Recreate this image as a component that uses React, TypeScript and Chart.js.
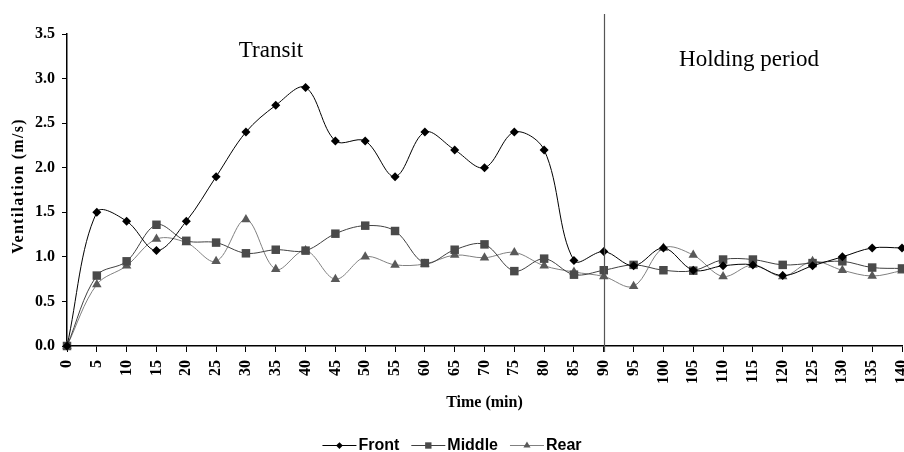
import React, { useEffect, useRef } from "react";
import { Chart, registerables } from "chart.js";

Chart.register(...registerables);

const timeLabels = ["0","5","10","15","20","25","30","35","40","45","50","55","60","65","70","75","80","85","90","95","100","105","110","115","120","125","130","135","140"];
const frontValues = [0,1.5,1.4,1.07,1.4,1.9,2.4,2.7,2.9,2.3,2.3,1.9,2.4,2.2,2.0,2.4,2.2,0.96,1.06,0.9,1.1,0.85,0.9,0.91,0.79,0.9,1.0,1.1,1.1];
const middleValues = [0,0.79,0.95,1.36,1.18,1.16,1.04,1.08,1.07,1.26,1.35,1.29,0.93,1.08,1.14,0.84,0.98,0.8,0.85,0.91,0.85,0.845,0.97,0.97,0.91,0.93,0.95,0.88,0.87];
const rearValues = [0,0.69,0.9,1.2,1.16,0.95,1.42,0.86,1.07,0.75,1.0,0.91,0.92,1.02,0.99,1.05,0.9,0.83,0.78,0.67,1.1,1.02,0.78,0.91,0.78,0.95,0.85,0.785,0.845];
const yTicks = [0, 0.5, 1.0, 1.5, 2.0, 2.5, 3.0, 3.5];
const dividerIndex = 18; // 90 min
const seriesNames = ["Front", "Middle", "Rear"];
const yTitle = "Ventilation (m/s)";
const xTitle = "Time (min)";

const VIEW_W = 904;
const VIEW_H = 452;
const CANVAS_W = 908;

const SERIF = "'Liberation Serif', 'Times New Roman', serif";
const SANS = "'Liberation Sans', Arial, sans-serif";

const styles = [
  { line: "#000000", fill: "#000000", point: "rectRot", radius: 4.5 },
  { line: "#404040", fill: "#4a4a4a", point: "rect", radius: 6 },
  { line: "#808080", fill: "#595959", point: "triangle", radius: 5.5 },
];

function drawMarker(ctx: CanvasRenderingContext2D, style: string, r: number, x: number, y: number) {
  ctx.beginPath();
  if (style === "rectRot") {
    ctx.moveTo(x - r, y);
    ctx.lineTo(x, y - r);
    ctx.lineTo(x + r, y);
    ctx.lineTo(x, y + r);
  } else if (style === "rect") {
    const s = r * Math.SQRT1_2;
    ctx.rect(x - s, y - s, 2 * s, 2 * s);
  } else {
    ctx.moveTo(x, y - r);
    ctx.lineTo(x + r * 0.866, y + r * 0.5);
    ctx.lineTo(x - r * 0.866, y + r * 0.5);
  }
  ctx.closePath();
  ctx.fill();
}

const overlayPlugin = {
  id: "overlay",
  afterDatasetsDraw(chart: any) {
    const ctx = chart.ctx;
    const xs = chart.scales.x;
    const area = chart.chartArea;
    const dx = Math.round(xs.getPixelForValue(dividerIndex)) + 0.5;
    ctx.save();
    ctx.strokeStyle = "#555555";
    ctx.lineWidth = 1.2;
    ctx.beginPath();
    ctx.moveTo(dx, area.top - 20);
    ctx.lineTo(dx, area.bottom + 6);
    ctx.stroke();
    ctx.fillStyle = "#000";
    ctx.font = `23px ${SERIF}`;
    ctx.textAlign = "center";
    ctx.textBaseline = "alphabetic";
    ctx.fillText("Transit", area.left + 204, area.top + 23);
    ctx.fillText("Holding period", area.left + 682, area.top + 32);
    // y axis title
    ctx.save();
    ctx.translate(19, (area.top + area.bottom) / 2 - 4);
    ctx.rotate(-Math.PI / 2);
    ctx.font = `bold 16px ${SERIF}`;
    (ctx as any).letterSpacing = "1.3px";
    ctx.textAlign = "center";
    ctx.textBaseline = "middle";
    ctx.fillText(yTitle, 0, 0);
    ctx.restore();
    ctx.restore();
  },
  afterDraw(chart: any) {
    const ctx = chart.ctx;
    const ds = chart.data.datasets;
    ctx.save();
    ctx.font = `bold 16px ${SANS}`;
    const lineLen = 34;
    const gapAfterLine = 2;
    const gapBetween = 12;
    const widths = ds.map((d: any) => ctx.measureText(d.label).width);
    const total = widths.reduce((a: number, w: number) => a + lineLen + gapAfterLine + w, 0) + gapBetween * (ds.length - 1);
    let x = VIEW_W / 2 - total / 2;
    const y = 445;
    ds.forEach((d: any, i: number) => {
      const st = styles[i];
      ctx.strokeStyle = st.line;
      ctx.lineWidth = 1;
      ctx.beginPath();
      ctx.moveTo(x, y + 0.5);
      ctx.lineTo(x + lineLen, y + 0.5);
      ctx.stroke();
      ctx.fillStyle = st.fill;
      drawMarker(ctx, st.point, st.radius * 0.75, x + lineLen / 2, y + 0.5);
      x += lineLen + gapAfterLine;
      ctx.fillStyle = "#000";
      ctx.textAlign = "left";
      ctx.textBaseline = "middle";
      ctx.fillText(d.label, x, y + 1);
      x += widths[i] + gapBetween;
    });
    ctx.restore();
  },
};

export default function App() {
  const canvasRef = useRef<HTMLCanvasElement | null>(null);

  useEffect(() => {
    if (!canvasRef.current) return;
    const seriesValues = [frontValues, middleValues, rearValues];
    const chart = new Chart(canvasRef.current, {
      type: "line",
      data: {
        labels: timeLabels,
        datasets: seriesValues.map((vals, i) => ({
          label: seriesNames[i],
          data: vals,
          borderColor: styles[i].line,
          backgroundColor: styles[i].fill,
          pointBackgroundColor: styles[i].fill,
          pointBorderColor: styles[i].fill,
          pointBorderWidth: 0,
          pointStyle: styles[i].point as any,
          pointRadius: styles[i].radius,
          borderWidth: 1,
          tension: 0.35,
          fill: false,
          clip: false as any,
          order: i,
        })),
      },
      options: {
        animation: false,
        responsive: false,
        devicePixelRatio: 1,
        layout: { padding: { top: 34, right: 0, bottom: 36, left: 0 } },
        plugins: {
          legend: { display: false },
          tooltip: { enabled: false },
        },
        scales: {
          x: {
            type: "category",
            offset: false,
            grid: {
              display: true,
              drawOnChartArea: false,
              drawTicks: true,
              tickLength: 6,
              tickColor: "#000",
            },
            border: { display: true, color: "#000", width: 1.5 },
            ticks: {
              autoSkip: false,
              maxRotation: 90,
              minRotation: 90,
              padding: 8,
              color: "#000",
              font: { family: SERIF, size: 16, weight: "bold" },
            },
            title: {
              display: true,
              text: xTitle,
              color: "#000",
              font: { family: SERIF, size: 16, weight: "bold" },
              padding: { top: 0, bottom: 4 },
            },
            afterFit(scale: any) {
              scale.height = 70;
              scale.paddingRight = 3;
              scale.paddingLeft = 0;
            },
          },
          y: {
            type: "linear",
            min: 0,
            max: 3.5,
            afterBuildTicks(scale: any) {
              scale.ticks = yTicks.map((v) => ({ value: v }));
            },
            grid: {
              display: true,
              drawOnChartArea: false,
              drawTicks: true,
              tickLength: 5,
              tickColor: "#000",
            },
            border: { display: true, color: "#000", width: 1.5 },
            ticks: {
              padding: 7,
              color: "#000",
              font: { family: SERIF, size: 16, weight: "bold" },
              callback: (v: any) => Number(v).toFixed(1),
            },
            title: { display: false },
            afterFit(scale: any) {
              scale.width = 67;
            },
          },
        },
      },
      plugins: [overlayPlugin],
    });
    return () => chart.destroy();
  }, []);

  return (
    <div style={{ position: "fixed", left: 0, top: 0, width: VIEW_W, height: VIEW_H, overflow: "hidden", background: "#fff" }}>
      <canvas ref={canvasRef} width={CANVAS_W} height={VIEW_H} style={{ display: "block", width: CANVAS_W, height: VIEW_H }} />
    </div>
  );
}
